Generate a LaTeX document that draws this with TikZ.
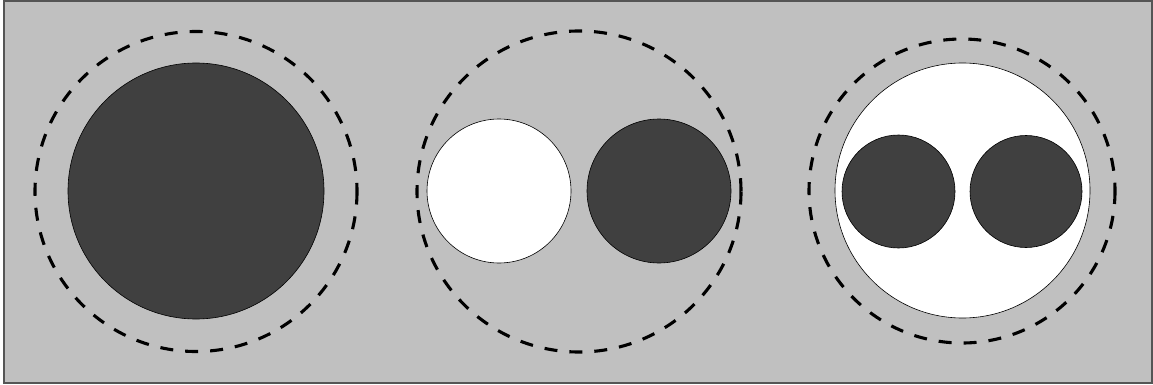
\documentclass[tikz,border=0pt]{standalone}
\begin{document}
\begin{tikzpicture}[x=1pt,y=-1pt,
  dashring/.style={draw=black,line width=3.1pt,dash pattern=on 13pt off 12pt},
  darkdisc/.style={draw=black,line width=0.6pt,fill=dark},
  whitedisc/.style={draw=black,line width=0.6pt,fill=white}]
\definecolor{dark}{HTML}{404040}
\definecolor{bggray}{HTML}{C0C0C0}
\definecolor{framegray}{HTML}{555555}
\useasboundingbox (0,0) rectangle (1153,385);
\fill[white] (0,0) rectangle (1153,385);
\draw[fill=bggray,draw=framegray,line width=1.4pt] (4,1) rectangle (1152,383);
% group 1
\draw[darkdisc] (196,191) circle[radius=128];
\draw[dashring] (196,191.5) ellipse[x radius=161,y radius=160];
% group 2
\draw[whitedisc] (499,191) circle[radius=72];
\draw[darkdisc] (659,191) circle[radius=72];
\draw[dashring] (579,191.5) ellipse[x radius=162,y radius=160.5];
% group 3
\draw[whitedisc] (962.5,190.5) circle[radius=127.5];
\draw[darkdisc] (898.5,191.5) circle[radius=56.5];
\draw[darkdisc] (1026,191.5) circle[radius=56];
\draw[dashring] (962,191) ellipse[x radius=153,y radius=152];
\end{tikzpicture}
\end{document}
